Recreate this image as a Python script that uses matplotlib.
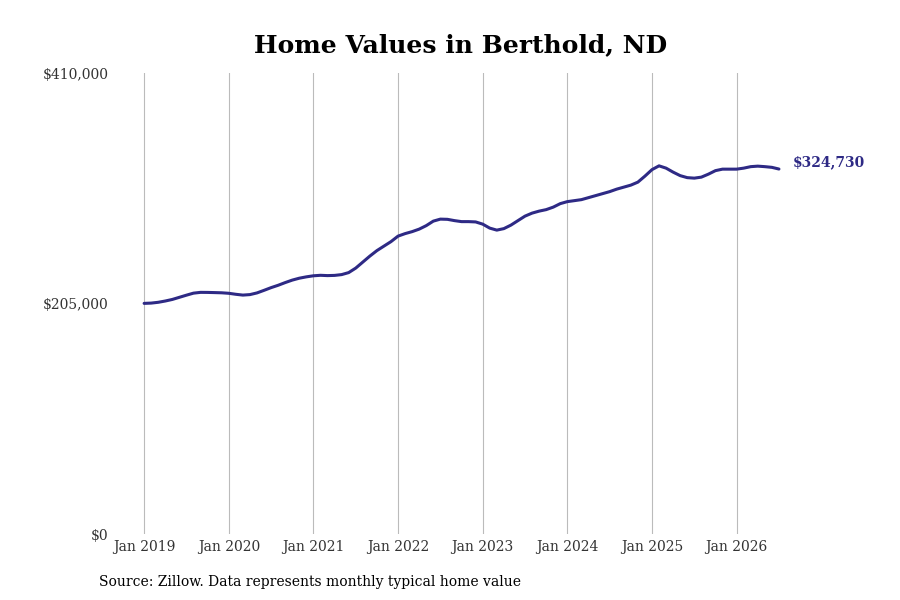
import matplotlib
matplotlib.use("Agg")
import matplotlib.pyplot as plt

# valores mensuales, ene 2019 - jul 2026
values = [
    205200, 205450, 206160, 207300, 208700, 210600, 212500, 214300, 215000, 214950,
    214790, 214610, 214170, 213280, 212570, 213010, 214500, 216800, 219200, 221300,
    223700, 225900, 227600, 228800, 229740, 230180, 229910, 230090, 230800, 232580,
    236580, 241920, 247250, 252140, 256150, 260150, 265040, 267270, 269040, 271270,
    274380, 278380, 280160, 279980, 278830, 277940, 277940, 277670, 275710, 272160,
    270380, 271710, 274820, 278830, 282830, 285500, 287280, 288610, 290830, 293950,
    295730, 296610, 297500, 299280, 301060, 302840, 304620, 306840, 308620, 310400,
    313070, 318410, 324190, 327570, 325520, 321960, 318850, 317070, 316630, 317520,
    320180, 323300, 324630, 324630, 324630, 325520, 326850, 327300, 326850, 326230,
    324730,
]
months = list(range(len(values)))
tick_pos = [0, 12, 24, 36, 48, 60, 72, 84]
tick_labels = ["Jan 2019", "Jan 2020", "Jan 2021", "Jan 2022",
               "Jan 2023", "Jan 2024", "Jan 2025", "Jan 2026"]
y_ticks = [0, 205000, 410000]
y_labels = ["$0", "$205,000", "$410,000"]

plt.rcParams['font.family'] = ['DejaVu Serif']
color = '#2e2a85'

fig = plt.figure(figsize=(9, 6), dpi=100)
ax = fig.add_axes([0.128, 0.11, 0.761, 0.768])

ax.plot(months, values, color=color, lw=2.2, solid_capstyle='round')
ax.set_xlim(-4.1, 93.0)
ax.set_ylim(0, 410000)

ax.set_xticks(tick_pos)
ax.set_xticklabels(tick_labels, fontsize=10, color='#333333')
ax.set_yticks(y_ticks)
ax.set_yticklabels(y_labels, fontsize=10, color='#333333')
ax.tick_params(axis='both', length=0)
ax.tick_params(axis='x', pad=4)
ax.tick_params(axis='y', pad=5)

ax.grid(axis='x', color='#bbbbbb', lw=0.8)
for s in ax.spines.values():
    s.set_visible(False)

ax.annotate(f"${values[-1]:,}", xy=(months[-1], values[-1]), xytext=(10, 0),
            textcoords='offset points', va='bottom', ha='left',
            fontsize=10, fontweight='bold', color=color, annotation_clip=False)

fig.text(0.512, 0.925, "Home Values in Berthold, ND", ha='center', va='center',
         fontsize=18, fontweight='bold')
fig.text(0.11, 0.03, "Source: Zillow. Data represents monthly typical home value",
         ha='left', va='center', fontsize=10)

fig.savefig("out.png", dpi=100)
